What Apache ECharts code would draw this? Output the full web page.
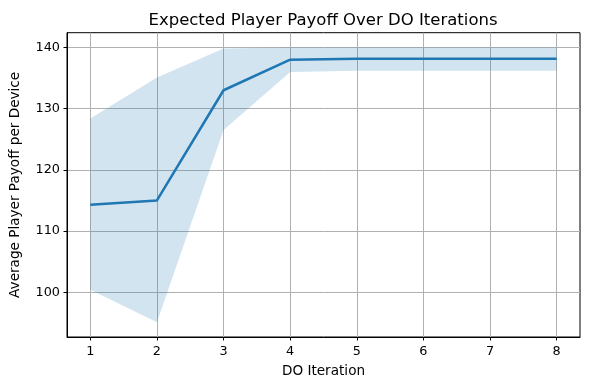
<!DOCTYPE html>
<html><head><meta charset="utf-8">
<script src="https://cdn.jsdelivr.net/npm/echarts@6/dist/echarts.min.js"></script>
<style>html,body{margin:0;padding:0;background:#fff}#c{width:590px;height:390px}</style>
</head><body><div id="c"></div>
<script>
const iterations = [1, 2, 3, 4, 5, 6, 7, 8];
const meanPayoff = [114.3, 115.0, 133.0, 138.0, 138.15, 138.15, 138.15, 138.15];
const upperBand = [128.4, 135.1, 139.8, 140.0, 140.0, 140.0, 140.0, 140.0];
const lowerBand = [100.4, 95.1, 126.5, 136.0, 136.2, 136.2, 136.2, 136.2];
const xTicks = [1, 2, 3, 4, 5, 6, 7, 8];
const yTicks = [100, 110, 120, 130, 140];

const FONT = 'DejaVu Sans';
const chart = echarts.init(document.getElementById('c'), null, {renderer: 'canvas'});
const lineData = iterations.map((x, i) => [x, meanPayoff[i]]);
chart.setOption({
  animation: false,
  title: {
    text: 'Expected Player Payoff Over DO Iterations',
    left: 318, top: 7, textAlign: 'center',
    textStyle: {fontFamily: FONT, fontSize: 16.5, fontWeight: 'normal', color: '#000'}
  },
  grid: {left: 66.7, top: 32.7, right: 10, bottom: 53, show: true, borderColor: '#000', borderWidth: 1, backgroundColor: 'transparent'},
  xAxis: {
    type: 'value', min: 0.65, max: 8.35,
    name: 'DO Iteration', nameLocation: 'middle', nameGap: 27,
    nameTextStyle: {fontFamily: FONT, fontSize: 13.6, color: '#000'},
    axisLine: {show: true, onZero: false, lineStyle: {color: '#000', width: 1}},
    axisTick: {show: true, customValues: xTicks, length: 3.5, lineStyle: {color: '#000'}},
    axisLabel: {customValues: xTicks, margin: 8, fontFamily: FONT, fontSize: 12.8, color: '#000'},
    splitLine: {show: true, lineStyle: {color: '#b0b0b0', width: 1}}
  },
  yAxis: {
    type: 'value', min: 92.7, max: 142.4,
    name: 'Average Player Payoff per Device', nameLocation: 'middle', nameGap: 45,
    nameTextStyle: {fontFamily: FONT, fontSize: 13.6, color: '#000'},
    axisLine: {show: true, onZero: false, lineStyle: {color: '#000', width: 1}},
    axisTick: {show: true, customValues: yTicks, length: 3.5, lineStyle: {color: '#000'}},
    axisLabel: {customValues: yTicks, margin: 7, fontFamily: FONT, fontSize: 12.8, color: '#000'},
    splitLine: {show: true, lineStyle: {color: '#b0b0b0', width: 1}}
  },
  series: [
    {
      type: 'custom',
      clip: true,
      data: [0],
      z: 1,
      renderItem: function (params, api) {
        const pts = [];
        for (let i = 0; i < iterations.length; i++) pts.push(api.coord([iterations[i], upperBand[i]]));
        for (let i = iterations.length - 1; i >= 0; i--) pts.push(api.coord([iterations[i], lowerBand[i]]));
        return {type: 'polygon', shape: {points: pts}, style: {fill: 'rgba(31,119,180,0.2)'}};
      }
    },
    {
      type: 'line', data: lineData, symbol: 'none', z: 3,
      lineStyle: {color: '#1f77b4', width: 2.5}
    }
  ]
});
</script></body></html>
